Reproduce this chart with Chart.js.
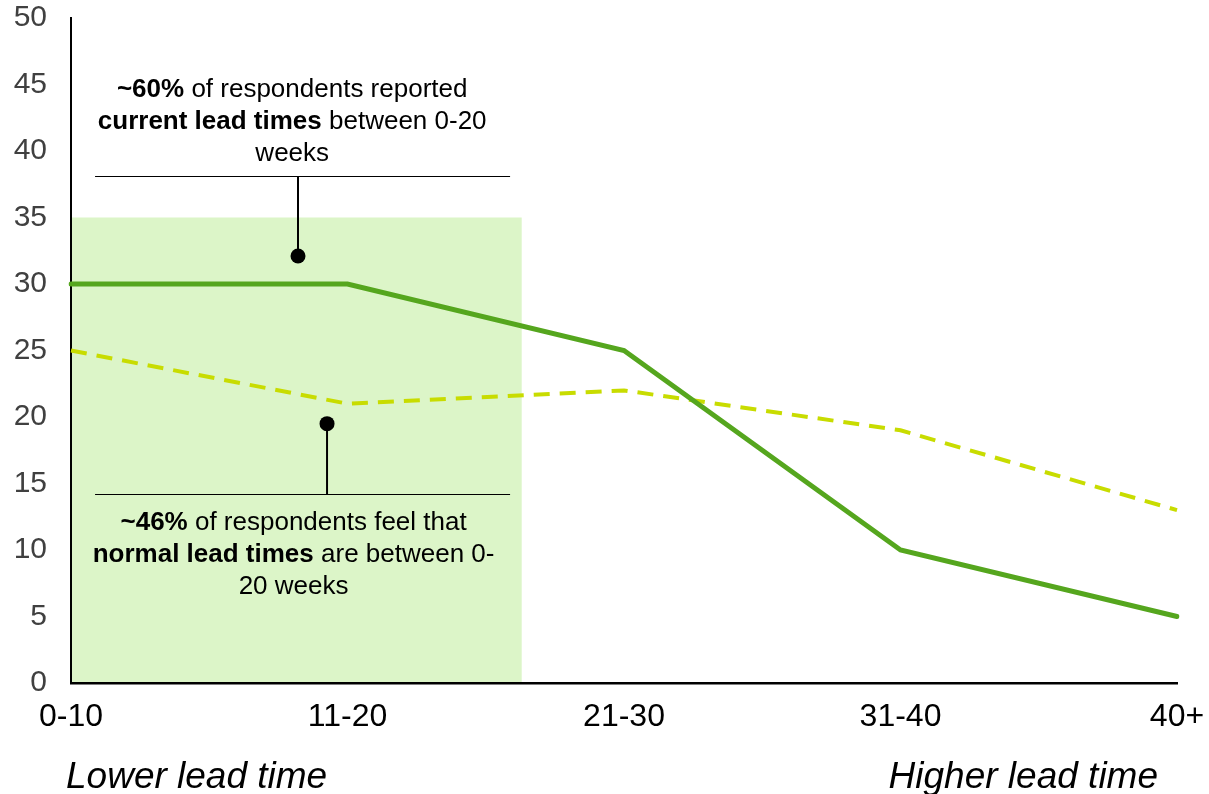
<!DOCTYPE html>
<html>
<head>
<meta charset="utf-8">
<title>Lead times</title>
<script src="https://cdn.jsdelivr.net/npm/chart.js@4.4.1/dist/chart.umd.min.js"></script>
<style>
  html, body { margin: 0; padding: 0; background: #ffffff; }
  #wrap { width: 1209px; height: 794px; position: relative; }
</style>
</head>
<body>
<div id="wrap"><canvas id="chart" width="1209" height="794"></canvas></div>
<script>
// Lead-time buckets (weeks) and share of respondents per bucket
const categories = ['0-10', '11-20', '21-30', '31-40', '40+'];
const currentLeadTimes = [30, 30, 25, 10, 5];
const normalLeadTimes = [25, 21, 22, 19, 13];
const yTicks = [0, 5, 10, 15, 20, 25, 30, 35, 40, 45, 50];

// Highlighted 0-20 week region (x in category units, y in value units)
const bandX = [0, 1.63];
const bandY = [0, 35];

// Callouts: rule line span, rule height, stem x, dot value
const currentNote = {
  lines: [
    [['~60%', true], [' of respondents reported', false]],
    [['current lead times', true], [' between 0-20', false]],
    [['weeks', false]]
  ],
  ruleX: [0.087, 1.588], ruleY: 38.1, stemX: 0.821, dotY: 32.1, textX: 0.8
};
const normalNote = {
  lines: [
    [['~46%', true], [' of respondents feel that', false]],
    [['normal lead times', true], [' are between 0-', false]],
    [['20 weeks', false]]
  ],
  ruleX: [0.087, 1.588], ruleY: 14.2, stemX: 0.926, dotY: 19.5, textX: 0.805
};

const FONT = 'Arial, "Liberation Sans", sans-serif';

function drawRichLine(ctx, segs, cx, baseline, size) {
  let total = 0;
  const widths = segs.map(([t, b]) => {
    ctx.font = (b ? 'bold ' : '') + size + 'px ' + FONT;
    const w = ctx.measureText(t).width;
    total += w;
    return w;
  });
  let x = cx - total / 2;
  segs.forEach(([t, b], i) => {
    ctx.font = (b ? 'bold ' : '') + size + 'px ' + FONT;
    ctx.fillText(t, x, baseline);
    x += widths[i];
  });
}

const overlay = {
  id: 'overlay',
  beforeDatasetsDraw(chart) {
    const { ctx, scales: { x, y } } = chart;
    ctx.save();
    ctx.fillStyle = '#DCF5C8';
    // keep the value axis line visible at the band's left edge
    const x0 = x.getPixelForValue(bandX[0]) + 1;
    const x1 = x.getPixelForValue(bandX[1]);
    const y0 = y.getPixelForValue(bandY[0]) - 1;
    const y1 = y.getPixelForValue(bandY[1]);
    ctx.fillRect(x0, y1, x1 - x0, y0 - y1);
    ctx.restore();
  },
  afterDatasetsDraw(chart) {
    const { ctx, scales: { x, y } } = chart;
    ctx.save();
    [[currentNote, 'above'], [normalNote, 'below']].forEach(([n, side]) => {
      const ry = Math.round(y.getPixelForValue(n.ruleY)) + 0.5;
      const sx = x.getPixelForValue(n.stemX);
      const dy = y.getPixelForValue(n.dotY);
      ctx.strokeStyle = '#000000';
      ctx.lineWidth = 1.2;
      ctx.beginPath();
      ctx.moveTo(x.getPixelForValue(n.ruleX[0]), ry);
      ctx.lineTo(x.getPixelForValue(n.ruleX[1]), ry);
      ctx.stroke();
      ctx.lineWidth = 2;
      ctx.beginPath();
      ctx.moveTo(sx, ry);
      ctx.lineTo(sx, dy);
      ctx.stroke();
      ctx.fillStyle = '#000000';
      ctx.beginPath();
      ctx.arc(sx, dy, 7.5, 0, Math.PI * 2);
      ctx.fill();

      ctx.textBaseline = 'alphabetic';
      ctx.textAlign = 'left';
      const cx = x.getPixelForValue(n.textX);
      const step = 32;
      n.lines.forEach((segs, i) => {
        const base = side === 'above'
          ? ry - 16 - (n.lines.length - 1 - i) * step
          : ry + 35 + i * step;
        drawRichLine(ctx, segs, cx, base, 26);
      });
    });

    // Direction captions under the category axis
    ctx.font = 'italic 37px ' + FONT;
    ctx.fillStyle = '#000000';
    ctx.textBaseline = 'alphabetic';
    ctx.textAlign = 'left';
    ctx.fillText('Lower lead time', 66, 788);
    ctx.textAlign = 'right';
    ctx.fillText('Higher lead time', 1158, 788);
    ctx.restore();
  }
};

new Chart(document.getElementById('chart'), {
  type: 'line',
  data: {
    labels: categories,
    datasets: [
      {
        label: 'Current lead times',
        data: currentLeadTimes,
        borderColor: '#55A61E',
        borderWidth: 5,
        pointRadius: 0,
        tension: 0,
        borderCapStyle: 'round',
        borderJoinStyle: 'miter',
        fill: false
      },
      {
        label: 'Normal lead times',
        data: normalLeadTimes,
        borderColor: '#C8DC00',
        borderWidth: 4,
        borderDash: [16, 10],
        pointRadius: 0,
        tension: 0,
        fill: false
      }
    ]
  },
  options: {
    responsive: false,
    animation: false,
    events: [],
    layout: { padding: { top: 18, right: 32, left: 0, bottom: 0 } },
    plugins: {
      legend: { display: false },
      tooltip: { enabled: false }
    },
    scales: {
      x: {
        type: 'category',
        offset: false,
        grid: { display: false, drawTicks: false },
        border: { display: true, color: '#000000', width: 2.5 },
        ticks: {
          color: '#000000',
          font: { family: FONT, size: 32 },
          padding: 15,
          maxRotation: 0,
          autoSkip: false
        },
        afterFit(scale) {
          scale.height = 111;
          scale.paddingLeft = 0;
          scale.paddingRight = 0;
        }
      },
      y: {
        min: 0,
        max: 50,
        afterBuildTicks(scale) { scale.ticks = yTicks.map(v => ({ value: v })); },
        grid: { display: false, drawTicks: false },
        border: { display: true, color: '#000000', width: 2 },
        ticks: {
          color: '#404040',
          font: { family: FONT, size: 30 },
          padding: 24
        },
        afterFit(scale) {
          scale.width = 71;
          scale.paddingTop = 0;
          scale.paddingBottom = 0;
        }
      }
    }
  },
  plugins: [overlay]
});
</script>
</body>
</html>
